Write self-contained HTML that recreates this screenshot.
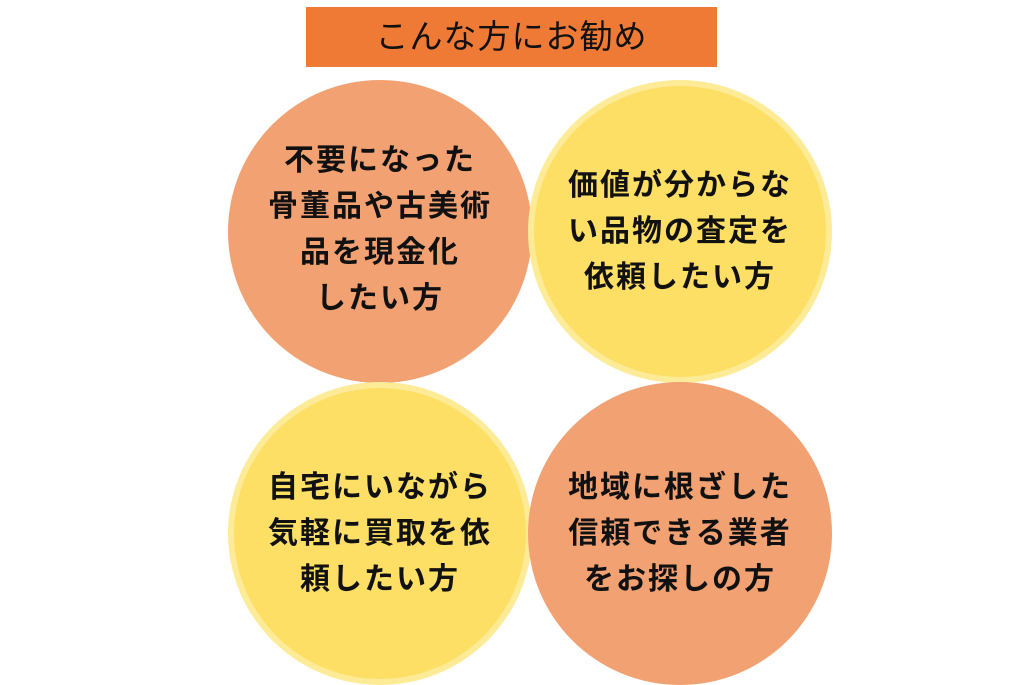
<!DOCTYPE html>
<html><head><meta charset="utf-8"><style>
body{margin:0;width:1024px;height:683px;background:#fff;position:relative;overflow:hidden;font-family:"Liberation Sans","Noto Sans CJK JP",sans-serif}
.t{position:absolute;left:306px;top:7px;width:411px;height:60px;background:#EE7A35;color:#111;font-size:33px;line-height:60px;text-align:center;letter-spacing:1px}
.c{position:absolute;width:304px;height:303px;border-radius:50%;box-sizing:border-box;display:flex;align-items:center;justify-content:center;text-align:center;font-weight:bold;font-size:30px;line-height:46px;color:#111;letter-spacing:2px}
.o{background:#F2A172}
.y{background:#FDDF66;border:6px solid #FEEB98}
</style></head><body>
<div class="t">こんな方にお勧め</div>
<div class="c o" style="left:228px;top:80px;padding-bottom:4px">不要になった<br>骨董品や古美術<br>品を現金化<br>したい方</div>
<div class="c y" style="left:528px;top:80px">価値が分からな<br>い品物の査定を<br>依頼したい方</div>
<div class="c y" style="left:228px;top:382px">自宅にいながら<br>気軽に買取を依<br>頼したい方</div>
<div class="c o" style="left:528px;top:382px">地域に根ざした<br>信頼できる業者<br>をお探しの方</div>
</body></html>
